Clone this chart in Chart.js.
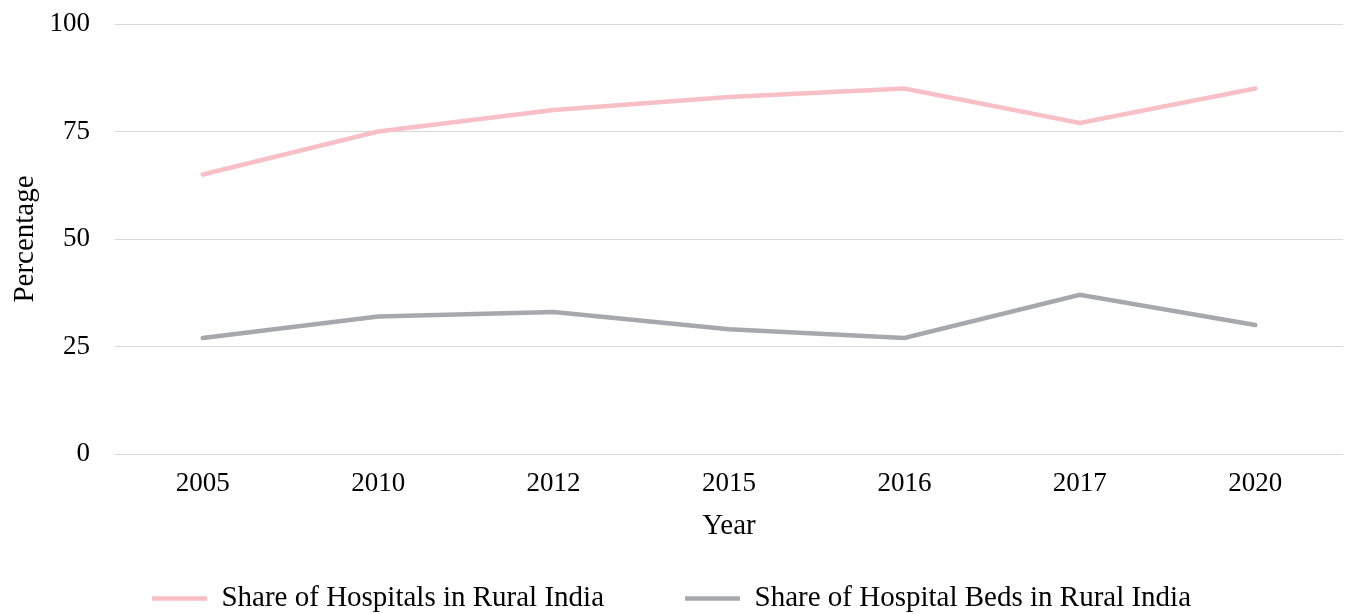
<!DOCTYPE html>
<html>
<head>
<meta charset="utf-8">
<script src="https://cdn.jsdelivr.net/npm/chart.js@4/dist/chart.umd.min.js"></script>
<style>
  html, body { margin: 0; padding: 0; background: #fff; }
  #wrap { width: 1349px; height: 614px; }
</style>
</head>
<body>
<div id="wrap"><canvas id="chart1" width="1349" height="614"></canvas></div>
<script>
var years = ["2005", "2010", "2012", "2015", "2016", "2017", "2020"];
var hospitales = [65, 75, 80, 83, 85, 77, 85];
var camas = [27, 32, 33, 29, 27, 37, 30];
var yTicks = [0, 25, 50, 75, 100];

var fuente = "'Liberation Serif', 'DejaVu Serif', serif";

// la leyenda usa padding grande para separar los items, pero ocupa poca altura
var ajusteLeyenda = {
	id: "ajusteLeyenda",
	afterInit: function (chart) {
		var leyenda = chart.legend;
		var fitOriginal = leyenda.fit;
		leyenda.fit = function () {
			fitOriginal.call(this);
			this.height = 111;
		};
	}
};

var datos = {
	type: "line",
	data: {
		labels: years,
		datasets: [{
			label: "Share of Hospitals in Rural India",
			data: hospitales,
			borderColor: "#F9BFC6",
			backgroundColor: "#F9BFC6",
			borderWidth: 4.5,
			pointRadius: 0,
			tension: 0,
			borderCapStyle: "round"
		}, {
			label: "Share of Hospital Beds in Rural India",
			data: camas,
			borderColor: "#A7A8AD",
			backgroundColor: "#A7A8AD",
			borderWidth: 4.5,
			pointRadius: 0,
			tension: 0,
			borderCapStyle: "round"
		}]
	},
	options: {
		responsive: false,
		animation: false,
		layout: { padding: { top: 24, right: 6, left: 0, bottom: 0 } },
		plugins: {
			tooltip: { enabled: false },
			legend: {
				position: "bottom",
				labels: {
					color: "#000",
					font: { family: fuente, size: 29 },
					usePointStyle: true,
					pointStyle: "line",
					pointStyleWidth: 55,
					padding: 81
				}
			}
		},
		scales: {
			x: {
				offset: true,
				grid: { display: false },
				border: { display: false },
				ticks: { color: "#000", font: { family: fuente, size: 27 }, padding: 6 },
				title: { display: true, text: "Year", color: "#000", font: { family: fuente, size: 29 }, padding: { top: 0, bottom: -41 } },
				afterFit: function (scale) {
					scale.height = 49;
				}
			},
			y: {
				min: 0,
				max: 100,
				afterBuildTicks: function (axis) {
					axis.ticks = yTicks.map(function (v) { return { value: v }; });
				},
				grid: { color: "#D9D9D9", lineWidth: 1, drawTicks: false },
				border: { display: false },
				ticks: { color: "#000", font: { family: fuente, size: 27 }, padding: 25 },
				title: { display: true, text: "Percentage", color: "#000", font: { family: fuente, size: 29 }, padding: { top: 8, bottom: 0 } },
				afterFit: function (scale) {
					scale.width = 115;
					scale.paddingTop = 0;
					scale.paddingBottom = 0;
				}
			}
		}
	},
	plugins: [ajusteLeyenda]
};

var canvas = document.getElementById("chart1").getContext("2d");
window.linea = new Chart(canvas, datos);
</script>
</body>
</html>
